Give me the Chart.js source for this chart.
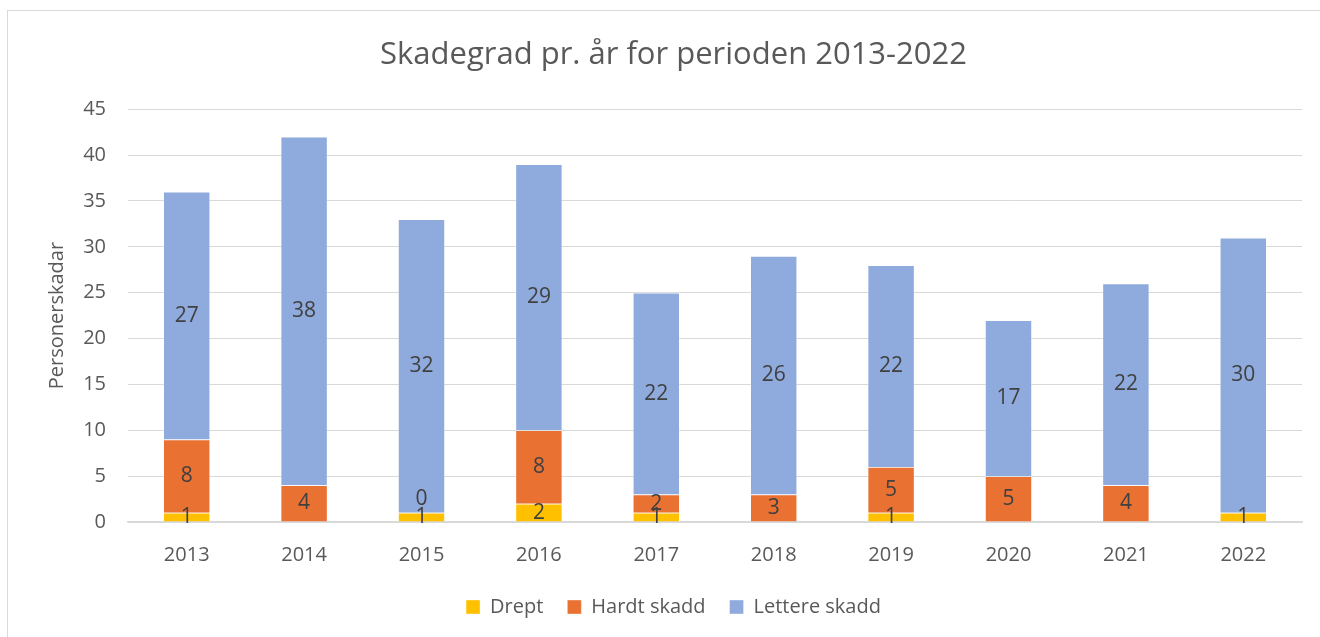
<!DOCTYPE html>
<html>
<head>
<meta charset="utf-8">
<script src="https://cdn.jsdelivr.net/npm/chart.js@4/dist/chart.umd.min.js"></script>
<style>
html,body{margin:0;padding:0;background:#fff;overflow:hidden;width:1320px;height:637px;}
#frame{position:absolute;left:7px;top:10px;width:1400px;height:700px;border:1px solid #d9d9d9;box-sizing:border-box;}
#wrap{position:absolute;left:0;top:0;width:1320px;height:637px;}
</style>
</head>
<body>
<div id="frame"></div>
<div id="wrap"><canvas id="c" width="1320" height="637"></canvas></div>
<script>
const categories = ['2013','2014','2015','2016','2017','2018','2019','2020','2021','2022'];
const drept = [1, null, 1, 2, 1, null, 1, null, null, 1];
const hardtSkadd = [8, 4, 0, 8, 2, 3, 5, 5, 4, null];
const lettereSkadd = [27, 38, 32, 29, 22, 26, 22, 17, 22, 30];
const seriesNames = ['Drept', 'Hardt skadd', 'Lettere skadd'];
const yTicks = [0, 5, 10, 15, 20, 25, 30, 35, 40, 45];

const FONT = "'Open Sans', 'Liberation Sans', sans-serif";
const TXT = '#595959';

const labelPlugin = {
  id: 'segLabels',
  afterDatasetsDraw(chart) {
    const ctx = chart.ctx;
    ctx.save();
    ctx.font = '21px ' + FONT;
    ctx.fillStyle = '#404040';
    ctx.textAlign = 'center';
    ctx.textBaseline = 'middle';
    const n = chart.data.labels.length;
    for (let i = 0; i < n; i++) {
      let prevY = null;
      chart.data.datasets.forEach((ds, di) => {
        const v = ds.data[i];
        if (v === null || v === undefined) return;
        const el = chart.getDatasetMeta(di).data[i];
        let y = (el.y + el.base) / 2;
        if (prevY !== null && prevY - y < 10) y = prevY - 18;
        ctx.fillText(String(v), el.x, y);
        prevY = y;
      });
    }
    ctx.restore();
  }
};

new Chart(document.getElementById('c'), {
  type: 'bar',
  data: {
    labels: categories,
    datasets: [
      {label: seriesNames[0], data: drept, backgroundColor: '#FFC000'},
      {label: seriesNames[1], data: hardtSkadd, backgroundColor: '#E97132'},
      {label: seriesNames[2], data: lettereSkadd, backgroundColor: '#8FAADC'}
    ].map(d => Object.assign(d, {borderColor: 'rgba(255,255,255,0.5)', borderWidth: 0.75, categoryPercentage: 1, barPercentage: 0.4}))
  },
  options: {
    responsive: false,
    animation: false,
    layout: {padding: {left: 45, right: 18, top: 37, bottom: 10}},
    plugins: {
      title: {display: true, text: 'Skadegrad pr. år for perioden 2013-2022', color: TXT,
        font: {family: FONT, size: 31, weight: 'normal'}, padding: {top: 0, bottom: 35}},
      legend: {position: 'bottom', labels: {color: TXT, font: {family: FONT, size: 20},
        boxWidth: 14, boxHeight: 14, padding: 24}},
      tooltip: {enabled: false}
    },
    scales: {
      x: {
        stacked: true,
        grid: {display: false, drawTicks: false},
        border: {display: true, color: '#d9d9d9', width: 1.5},
        ticks: {color: TXT, font: {family: FONT, size: 20}, padding: 21},
        afterFit: s => { s.height = 51; }
      },
      y: {
        stacked: true,
        min: 0, max: 45,
        afterBuildTicks: s => { s.ticks = yTicks.map(v => ({value: v})); },
        grid: {color: '#d9d9d9', lineWidth: 1, drawTicks: false},
        border: {display: false},
        ticks: {color: TXT, font: {family: FONT, size: 20}, padding: 22},
        title: {display: true, text: 'Personerskadar', color: TXT, font: {family: FONT, size: 20}, padding: 0},
        afterFit: s => { s.width = 83; }
      }
    }
  },
  plugins: [labelPlugin]
});
</script>
</body>
</html>
